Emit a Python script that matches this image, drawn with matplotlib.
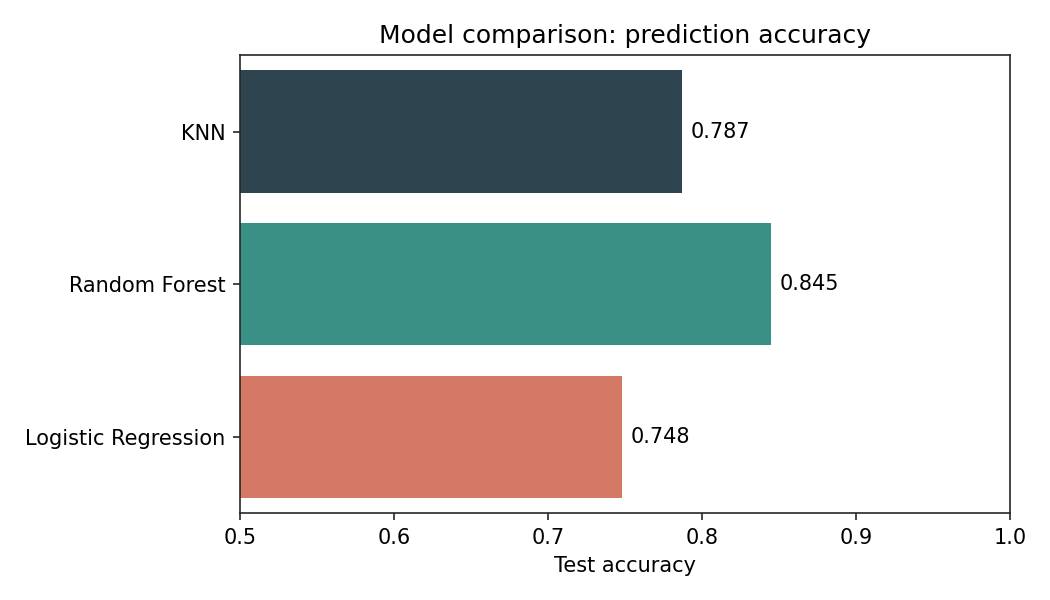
import numpy as np
import matplotlib
matplotlib.use("Agg")
import matplotlib.pyplot as plt

models = ["KNN", "Random Forest", "Logistic Regression"]
accuracy = [0.787, 0.845, 0.748]
colors = ["#2e4550", "#3a9084", "#d47965"]

fig = plt.figure(figsize=(7, 4), dpi=150)
ax = fig.add_axes([0.2286, 0.145, 0.7334, 0.763])

y = np.arange(len(models))
bars = ax.barh(y, accuracy, height=0.8, color=colors)
ax.set_yticks(y)
ax.set_yticklabels(models)
ax.set_ylim(2.5, -0.5)
ax.set_xlim(0.5, 1.0)
ax.set_xlabel("Test accuracy")
ax.set_title("Model comparison: prediction accuracy")

for spine in ax.spines.values():
    spine.set_color("#262626")
ax.tick_params(colors="#262626", labelcolor="black")

ax.bar_label(bars, labels=[f"{v:.3f}" for v in accuracy], padding=4)

fig.savefig("out.png", dpi=150)
